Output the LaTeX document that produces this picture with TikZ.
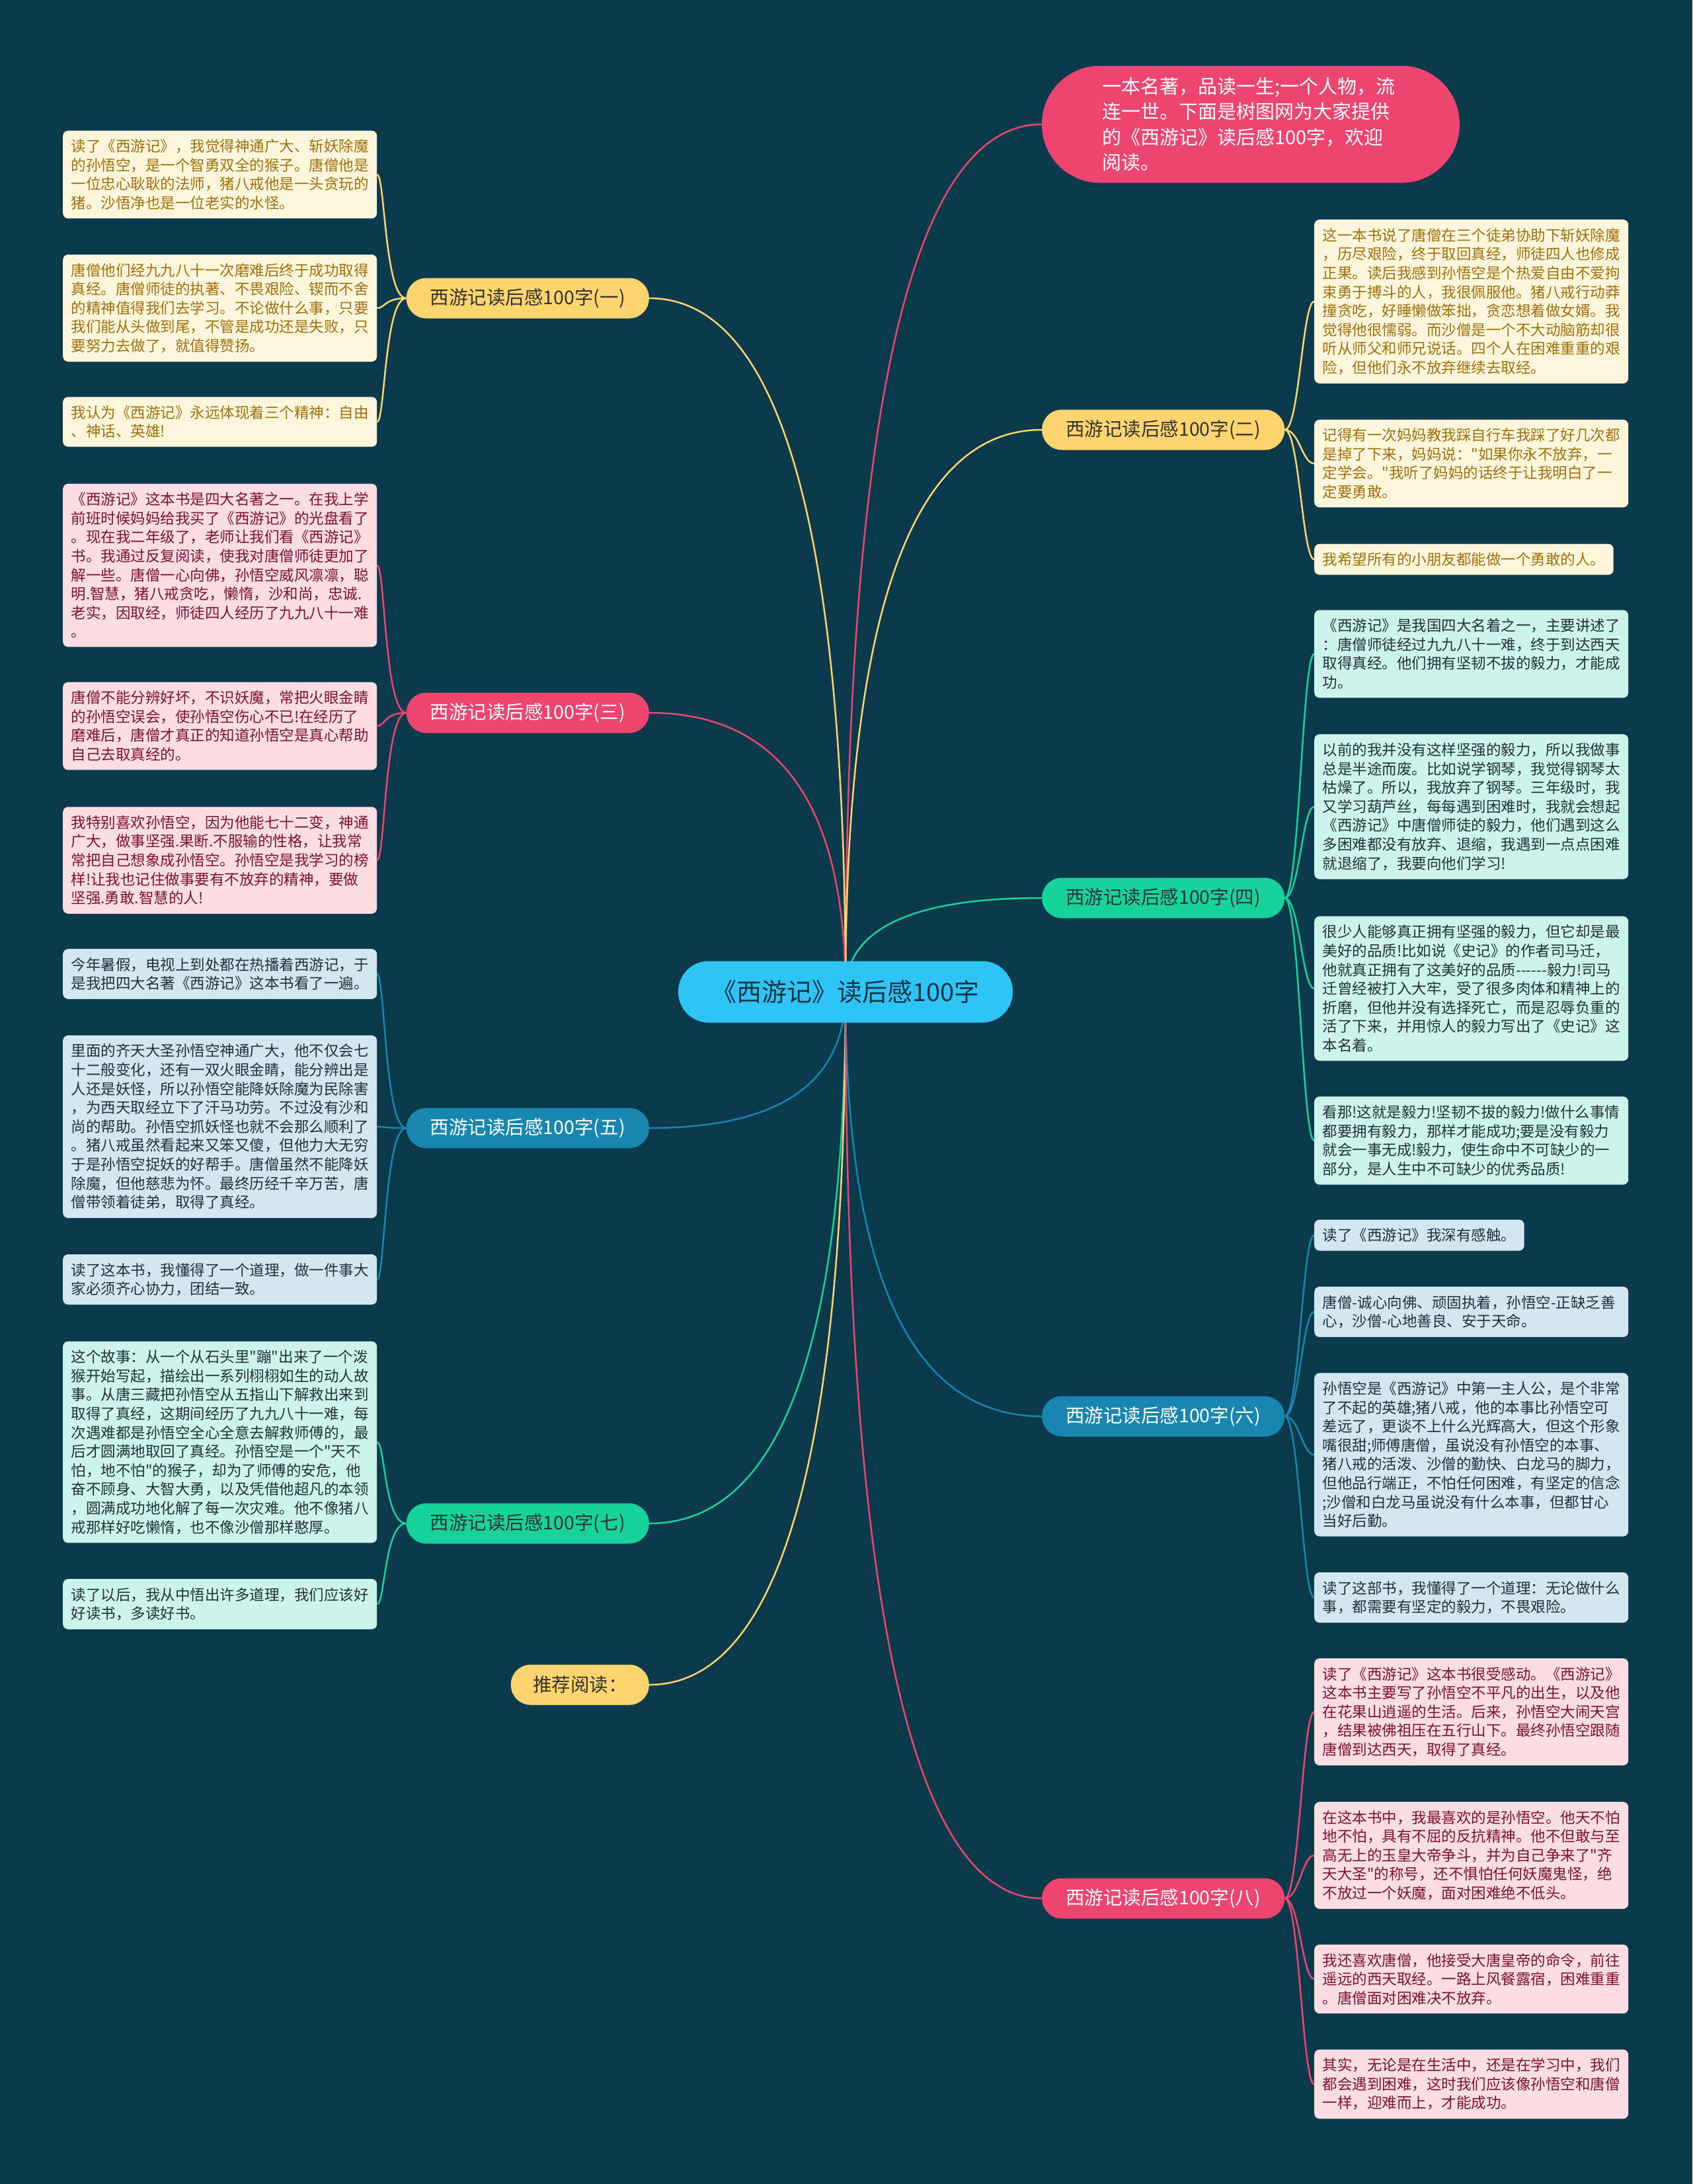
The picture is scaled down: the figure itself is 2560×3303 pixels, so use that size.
\documentclass[tikz,border=0pt]{standalone}
\usepackage{fontspec}
\setmainfont{Noto Sans CJK SC}[Ligatures=TeXOff]
\usetikzlibrary{calc}
\definecolor{bgc}{HTML}{0B3A4C}
\definecolor{ycol}{HTML}{FDD46E}
\definecolor{pcol}{HTML}{EE4570}
\definecolor{bcol}{HTML}{1787B1}
\definecolor{gcol}{HTML}{16D29B}
\definecolor{ccol}{HTML}{2EC4F5}
\definecolor{yfill}{HTML}{FEF5DD}
\definecolor{pfill}{HTML}{FCDDE3}
\definecolor{bfill}{HTML}{D2E7EF}
\definecolor{gfill}{HTML}{CDF4EA}
\definecolor{ytext}{HTML}{A0700C}
\definecolor{ptext}{HTML}{7D1230}
\definecolor{btext}{HTML}{22303A}
\definecolor{gtext}{HTML}{22303A}
\definecolor{darktext}{HTML}{333333}
\definecolor{ctext}{HTML}{123445}
\pgfdeclarelayer{bgl}
\pgfdeclarelayer{lines}
\pgfsetlayers{bgl,lines,main}
\tikzset{
  leafauto/.style={rounded corners=8pt, inner xsep=12.5pt, inner ysep=13pt, align=left,
    font=\fontsize{22.5}{28.6}\selectfont, anchor=west},
  leaf/.style={leafauto, text width=450pt},
  branch/.style={rounded corners=30pt, minimum width=367pt, minimum height=61pt, inner sep=0pt,
    font=\fontsize{28.5}{34}\selectfont},
  conn/.style={line width=2.5pt},
}
\newcommand\cconn[2]{\draw[conn,#1] (ctr.center) .. controls ($(ctr.center)!0.667!(ctr.center |- #2)$) and ($(#2)!0.667!(ctr.center |- #2)$) .. (#2);}
\newcommand\lconn[3]{\draw[conn,#1] (#2.west) .. controls ([xshift=-33pt]#2.west) and ([xshift=12pt]#3.east) .. (#3.east);}
\newcommand\rconn[3]{\draw[conn,#1] (#2.east) .. controls ([xshift=22pt]#2.east) and ([xshift=-18pt]#3.west) .. (#3.west);}
\begin{document}
\begin{tikzpicture}[x=1pt,y=-1pt]
\useasboundingbox (0,0) rectangle (2560,3303);
\begin{pgfonlayer}{bgl}
\fill[bgc] (0,0) rectangle (2560,3303);
\end{pgfonlayer}

% center
\node[fill=ccol, text=ctext, rounded corners=46pt, minimum width=506pt, minimum height=93pt, inner sep=0pt,
  font=\fontsize{38}{44}\selectfont] (ctr) at (1279,1500) {《西游记》读后感100字};

% intro
\node[fill=pcol, text=white, rounded corners=88pt, minimum width=632pt, minimum height=177pt,
  text width=450pt, align=left, inner xsep=0pt, font=\fontsize{29}{38.6}\selectfont] (intro) at (1892,188)
  {一本名著，品读一生;一个人物，流\\连一世。下面是树图网为大家提供\\的《西游记》读后感100字，欢迎\\阅读。};

% left branches
\node[branch, fill=ycol, text=darktext, anchor=east] (b1) at (982,451) {西游记读后感100字(一)};
\node[branch, fill=pcol, text=white, anchor=east] (b3) at (982,1078) {西游记读后感100字(三)};
\node[branch, fill=bcol, text=white, anchor=east] (b5) at (982,1706) {西游记读后感100字(五)};
\node[branch, fill=gcol, text=darktext, anchor=east] (b7) at (982,2304) {西游记读后感100字(七)};
\node[branch, fill=ycol, text=darktext, anchor=east, minimum width=209pt] (rec) at (982,2548) {推荐阅读：};

% right branches
\node[branch, fill=ycol, text=darktext, anchor=west] (b2) at (1576,650) {西游记读后感100字(二)};
\node[branch, fill=gcol, text=darktext, anchor=west] (b4) at (1576,1358) {西游记读后感100字(四)};
\node[branch, fill=bcol, text=white, anchor=west] (b6) at (1576,2142) {西游记读后感100字(六)};
\node[branch, fill=pcol, text=white, anchor=west] (b8) at (1576,2871) {西游记读后感100字(八)};

% left leaves (一)
\node[leaf, fill=yfill, text=ytext] (l1a) at (95,264) {读了《西游记》，我觉得神通广大、斩妖除魔\\的孙悟空，是一个智勇双全的猴子。唐僧他是\\一位忠心耿耿的法师，猪八戒他是一头贪玩的\\猪。沙悟净也是一位老实的水怪。};
\node[leaf, fill=yfill, text=ytext] (l1b) at (95,466) {唐僧他们经九九八十一次磨难后终于成功取得\\真经。唐僧师徒的执著、不畏艰险、锲而不舍\\的精神值得我们去学习。不论做什么事，只要\\我们能从头做到尾，不管是成功还是失败，只\\要努力去做了，就值得赞扬。};
\node[leaf, fill=yfill, text=ytext] (l1c) at (95,638) {我认为《西游记》永远体现着三个精神：自由\\、神话、英雄!};

% left leaves (三)
\node[leaf, fill=pfill, text=ptext] (l3a) at (95,855) {《西游记》这本书是四大名著之一。在我上学\\前班时候妈妈给我买了《西游记》的光盘看了\\。现在我二年级了，老师让我们看《西游记》\\书。我通过反复阅读，使我对唐僧师徒更加了\\解一些。唐僧一心向佛，孙悟空威风凛凛，聪\\明.智慧，猪八戒贪吃，懒惰，沙和尚，忠诚.\\老实，因取经，师徒四人经历了九九八十一难\\。};
\node[leaf, fill=pfill, text=ptext] (l3b) at (95,1098) {唐僧不能分辨好坏，不识妖魔，常把火眼金睛\\的孙悟空误会，使孙悟空伤心不已!在经历了\\磨难后，唐僧才真正的知道孙悟空是真心帮助\\自己去取真经的。};
\node[leaf, fill=pfill, text=ptext] (l3c) at (95,1301) {我特别喜欢孙悟空，因为他能七十二变，神通\\广大，做事坚强.果断.不服输的性格，让我常\\常把自己想象成孙悟空。孙悟空是我学习的榜\\样!让我也记住做事要有不放弃的精神，要做\\坚强.勇敢.智慧的人!};

% left leaves (五)
\node[leaf, fill=bfill, text=btext] (l5a) at (95,1473) {今年暑假，电视上到处都在热播着西游记，于\\是我把四大名著《西游记》这本书看了一遍。};
\node[leaf, fill=bfill, text=btext] (l5b) at (95,1704) {里面的齐天大圣孙悟空神通广大，他不仅会七\\十二般变化，还有一双火眼金睛，能分辨出是\\人还是妖怪，所以孙悟空能降妖除魔为民除害\\，为西天取经立下了汗马功劳。不过没有沙和\\尚的帮助。孙悟空抓妖怪也就不会那么顺利了\\。猪八戒虽然看起来又笨又傻，但他力大无穷\\于是孙悟空捉妖的好帮手。唐僧虽然不能降妖\\除魔，但他慈悲为怀。最终历经千辛万苦，唐\\僧带领着徒弟，取得了真经。};
\node[leaf, fill=bfill, text=btext] (l5c) at (95,1935) {读了这本书，我懂得了一个道理，做一件事大\\家必须齐心协力，团结一致。};

% left leaves (七)
\node[leaf, fill=gfill, text=gtext] (l7a) at (95,2181) {这个故事：从一个从石头里"蹦"出来了一个泼\\猴开始写起，描绘出一系列栩栩如生的动人故\\事。从唐三藏把孙悟空从五指山下解救出来到\\取得了真经，这期间经历了九九八十一难，每\\次遇难都是孙悟空全心全意去解救师傅的，最\\后才圆满地取回了真经。孙悟空是一个"天不\\怕，地不怕"的猴子，却为了师傅的安危，他\\奋不顾身、大智大勇，以及凭借他超凡的本领\\，圆满成功地化解了每一次灾难。他不像猪八\\戒那样好吃懒惰，也不像沙僧那样憨厚。};
\node[leaf, fill=gfill, text=gtext] (l7b) at (95,2426) {读了以后，我从中悟出许多道理，我们应该好\\好读书，多读好书。};

% right leaves (二)
\node[leaf, fill=yfill, text=ytext] (r2a) at (1988,456) {这一本书说了唐僧在三个徒弟协助下斩妖除魔\\，历尽艰险，终于取回真经，师徒四人也修成\\正果。读后我感到孙悟空是个热爱自由不爱拘\\束勇于搏斗的人，我很佩服他。猪八戒行动莽\\撞贪吃，好睡懒做笨拙，贪恋想着做女婿。我\\觉得他很懦弱。而沙僧是一个不大动脑筋却很\\听从师父和师兄说话。四个人在困难重重的艰\\险，但他们永不放弃继续去取经。};
\node[leaf, fill=yfill, text=ytext] (r2b) at (1988,701) {记得有一次妈妈教我踩自行车我踩了好几次都\\是掉了下来，妈妈说："如果你永不放弃，一\\定学会。"我听了妈妈的话终于让我明白了一\\定要勇敢。};
\node[leafauto, fill=yfill, text=ytext] (r2c) at (1988,846) {我希望所有的小朋友都能做一个勇敢的人。};

% right leaves (四)
\node[leaf, fill=gfill, text=gtext] (r4a) at (1988,989) {《西游记》是我国四大名着之一，主要讲述了\\：唐僧师徒经过九九八十一难，终于到达西天\\取得真经。他们拥有坚韧不拔的毅力，才能成\\功。};
\node[leaf, fill=gfill, text=gtext] (r4b) at (1988,1220) {以前的我并没有这样坚强的毅力，所以我做事\\总是半途而废。比如说学钢琴，我觉得钢琴太\\枯燥了。所以，我放弃了钢琴。三年级时，我\\又学习葫芦丝，每每遇到困难时，我就会想起\\《西游记》中唐僧师徒的毅力，他们遇到这么\\多困难都没有放弃、退缩，我遇到一点点困难\\就退缩了，我要向他们学习!};
\node[leaf, fill=gfill, text=gtext] (r4c) at (1988,1495) {很少人能够真正拥有坚强的毅力，但它却是最\\美好的品质!比如说《史记》的作者司马迁，\\他就真正拥有了这美好的品质-{}-{}-{}-{}-{}-毅力!司马\\迁曾经被打入大牢，受了很多肉体和精神上的\\折磨，但他并没有选择死亡，而是忍辱负重的\\活了下来，并用惊人的毅力写出了《史记》这\\本名着。};
\node[leaf, fill=gfill, text=gtext] (r4d) at (1988,1725) {看那!这就是毅力!坚韧不拔的毅力!做什么事情\\都要拥有毅力，那样才能成功;要是没有毅力\\就会一事无成!毅力，使生命中不可缺少的一\\部分，是人生中不可缺少的优秀品质!};

% right leaves (六)
\node[leafauto, fill=bfill, text=btext] (r6a) at (1988,1868) {读了《西游记》我深有感触。};
\node[leaf, fill=bfill, text=btext] (r6b) at (1988,1984) {唐僧-诚心向佛、顽固执着，孙悟空-正缺乏善\\心，沙僧-心地善良、安于天命。};
\node[leaf, fill=bfill, text=btext] (r6c) at (1988,2200) {孙悟空是《西游记》中第一主人公，是个非常\\了不起的英雄;猪八戒，他的本事比孙悟空可\\差远了，更谈不上什么光辉高大，但这个形象\\嘴很甜;师傅唐僧，虽说没有孙悟空的本事、\\猪八戒的活泼、沙僧的勤快、白龙马的脚力，\\但他品行端正，不怕任何困难，有坚定的信念\\;沙僧和白龙马虽说没有什么本事，但都甘心\\当好后勤。};
\node[leaf, fill=bfill, text=btext] (r6d) at (1988,2416) {读了这部书，我懂得了一个道理：无论做什么\\事，都需要有坚定的毅力，不畏艰险。};

% right leaves (八)
\node[leaf, fill=pfill, text=ptext] (r8a) at (1988,2589) {读了《西游记》这本书很受感动。《西游记》\\这本书主要写了孙悟空不平凡的出生，以及他\\在花果山逍遥的生活。后来，孙悟空大闹天宫\\，结果被佛祖压在五行山下。最终孙悟空跟随\\唐僧到达西天，取得了真经。};
\node[leaf, fill=pfill, text=ptext] (r8b) at (1988,2806) {在这本书中，我最喜欢的是孙悟空。他天不怕\\地不怕，具有不屈的反抗精神。他不但敢与至\\高无上的玉皇大帝争斗，并为自己争来了"齐\\天大圣"的称号，还不惧怕任何妖魔鬼怪，绝\\不放过一个妖魔，面对困难绝不低头。};
\node[leaf, fill=pfill, text=ptext] (r8c) at (1988,2993) {我还喜欢唐僧，他接受大唐皇帝的命令，前往\\遥远的西天取经。一路上风餐露宿，困难重重\\。唐僧面对困难决不放弃。};
\node[leaf, fill=pfill, text=ptext] (r8d) at (1988,3152) {其实，无论是在生活中，还是在学习中，我们\\都会遇到困难，这时我们应该像孙悟空和唐僧\\一样，迎难而上，才能成功。};

\begin{pgfonlayer}{lines}
\cconn{pcol}{intro.west}
\cconn{ycol}{b1.east}
\cconn{pcol}{b3.east}
\cconn{bcol}{b5.east}
\cconn{gcol}{b7.east}
\cconn{ycol}{rec.east}
\cconn{ycol}{b2.west}
\cconn{gcol}{b4.west}
\cconn{bcol}{b6.west}
\cconn{pcol}{b8.west}
\lconn{ycol}{b1}{l1a}
\lconn{ycol}{b1}{l1b}
\lconn{ycol}{b1}{l1c}
\lconn{pcol}{b3}{l3a}
\lconn{pcol}{b3}{l3b}
\lconn{pcol}{b3}{l3c}
\lconn{bcol}{b5}{l5a}
\lconn{bcol}{b5}{l5b}
\lconn{bcol}{b5}{l5c}
\lconn{gcol}{b7}{l7a}
\lconn{gcol}{b7}{l7b}
\rconn{ycol}{b2}{r2a}
\rconn{ycol}{b2}{r2b}
\rconn{ycol}{b2}{r2c}
\rconn{gcol}{b4}{r4a}
\rconn{gcol}{b4}{r4b}
\rconn{gcol}{b4}{r4c}
\rconn{gcol}{b4}{r4d}
\rconn{bcol}{b6}{r6a}
\rconn{bcol}{b6}{r6b}
\rconn{bcol}{b6}{r6c}
\rconn{bcol}{b6}{r6d}
\rconn{pcol}{b8}{r8a}
\rconn{pcol}{b8}{r8b}
\rconn{pcol}{b8}{r8c}
\rconn{pcol}{b8}{r8d}
\end{pgfonlayer}
\end{tikzpicture}
\end{document}
